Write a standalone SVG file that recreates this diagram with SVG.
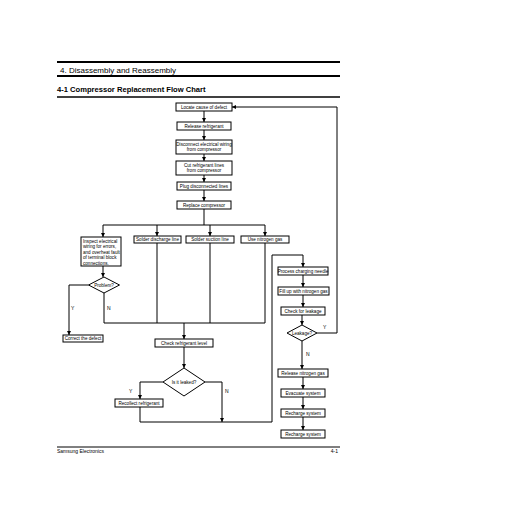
<svg xmlns="http://www.w3.org/2000/svg" width="519" height="506" viewBox="0 0 519 506">
<style>
.b{fill:#fff;stroke:#000;stroke-width:1}
.t{font-family:"Liberation Sans",Arial,sans-serif;font-size:4.6px;fill:#000;text-anchor:middle}
.tl{font-family:"Liberation Sans",Arial,sans-serif;font-size:4.6px;fill:#000}
.lb{font-family:"Liberation Sans",Arial,sans-serif;font-size:5px;fill:#000}
.c{fill:none;stroke:#000;stroke-width:1}
.h{stroke:#000}
</style>
<defs>
<marker id="a" markerWidth="4" markerHeight="4" refX="4" refY="2" orient="auto" markerUnits="userSpaceOnUse">
<path d="M0,0 L4,2 L0,4 Z" fill="#000"/>
</marker>
</defs>
<rect width="519" height="506" fill="#fff"/>
<g id="header">
<line class="h" x1="57" y1="62" x2="340" y2="62" stroke-width="2"/>
<text x="60" y="73" font-family="Liberation Sans,Arial,sans-serif" font-size="8">4. Disassembly and Reassembly</text>
<line class="h" x1="57" y1="76" x2="340" y2="76" stroke-width="2"/>
<text x="57" y="92" font-family="Liberation Sans,Arial,sans-serif" font-size="7.6" font-weight="bold">4-1 Compressor Replacement Flow Chart</text>
<line class="h" x1="57" y1="97" x2="340" y2="97" stroke-width="1.5"/>
</g>
<g id="footer">
<line class="h" x1="57" y1="447" x2="340" y2="447" stroke-width="1"/>
<text x="57" y="453" font-family="Liberation Sans,Arial,sans-serif" font-size="5">Samsung Electronics</text>
<text x="338" y="453" font-family="Liberation Sans,Arial,sans-serif" font-size="5" text-anchor="end">4-1</text>
</g>
<g id="connectors">
<path class="c" d="M204,111 V122" marker-end="url(#a)"/>
<path class="c" d="M204,130 V140" marker-end="url(#a)"/>
<path class="c" d="M204,154 V161" marker-end="url(#a)"/>
<path class="c" d="M204,175 V182" marker-end="url(#a)"/>
<path class="c" d="M204,190 V201" marker-end="url(#a)"/>
<path class="c" d="M204,209 V225"/>
<path class="c" d="M103,225 H265"/>
<path class="c" d="M103,225 V237" marker-end="url(#a)"/>
<path class="c" d="M157,225 V236" marker-end="url(#a)"/>
<path class="c" d="M210,225 V236" marker-end="url(#a)"/>
<path class="c" d="M265,225 V236" marker-end="url(#a)"/>
<path class="c" d="M103,266 V277" marker-end="url(#a)"/>
<path class="c" d="M88.5,285 H69 V335" marker-end="url(#a)"/>
<path class="c" d="M104,293 V323 H265"/>
<path class="c" d="M157,243 V323"/>
<path class="c" d="M210,243 V323"/>
<path class="c" d="M265,243 V323"/>
<path class="c" d="M184,323 V339" marker-end="url(#a)"/>
<path class="c" d="M184,347 V368" marker-end="url(#a)"/>
<path class="c" d="M163,382 H140 V399" marker-end="url(#a)"/>
<path class="c" d="M140,407 V422 H272 V255 H303 V267" marker-end="url(#a)"/>
<path class="c" d="M205,382 H222 V422" marker-end="url(#a)"/>
<path class="c" d="M303,275 V287" marker-end="url(#a)"/>
<path class="c" d="M303,295 V307" marker-end="url(#a)"/>
<path class="c" d="M302,315 V325" marker-end="url(#a)"/>
<path class="c" d="M317,333 H337 V107 H232" marker-end="url(#a)"/>
<path class="c" d="M302,341 V369" marker-end="url(#a)"/>
<path class="c" d="M303,377 V389" marker-end="url(#a)"/>
<path class="c" d="M303,397 V409" marker-end="url(#a)"/>
<path class="c" d="M303,417 V430" marker-end="url(#a)"/>
<text class="lb" x="71" y="310">Y</text>
<text class="lb" x="107" y="310">N</text>
<text class="lb" x="129" y="393">Y</text>
<text class="lb" x="225" y="393">N</text>
<text class="lb" x="323" y="329">Y</text>
<text class="lb" x="306" y="356">N</text>
</g>
<g id="n1"><rect class="b" x="176" y="103" width="56" height="8"/><text class="t" x="204" y="108.6">Locate cause of defect</text></g>
<g id="n2"><rect class="b" x="177" y="122" width="54" height="8"/><text class="t" x="204" y="127.6">Release refrigerant</text></g>
<g id="n3"><rect class="b" x="176" y="140" width="56" height="14"/><text class="t" x="204" y="145.8">Disconnect electrical wiring</text><text class="t" x="204" y="151.4">from compressor</text></g>
<g id="n4"><rect class="b" x="176" y="161" width="56" height="14"/><text class="t" x="204" y="166.8">Cut refrigerant lines</text><text class="t" x="204" y="172.4">from compressor</text></g>
<g id="n5"><rect class="b" x="177" y="182" width="54" height="8"/><text class="t" x="204" y="187.6">Plug disconnected lines</text></g>
<g id="n6"><rect class="b" x="177" y="201" width="54" height="8"/><text class="t" x="204" y="206.6">Replace compressor</text></g>
<g id="n7"><rect class="b" x="81" y="237" width="40" height="29"/>
<text class="tl" x="83" y="242.5">Inspect electrical</text>
<text class="tl" x="83" y="248">wiring for errors,</text>
<text class="tl" x="83" y="253.5">and overheat fault</text>
<text class="tl" x="83" y="259">of terminal block</text>
<text class="tl" x="83" y="264.5">connections.</text></g>
<g id="n8"><rect class="b" x="134" y="236" width="47" height="7"/><text class="t" x="157.5" y="241.2">Solder discharge line</text></g>
<g id="n9"><rect class="b" x="186" y="236" width="48" height="7"/><text class="t" x="210" y="241.2">Solder suction line</text></g>
<g id="n10"><rect class="b" x="241" y="236" width="48" height="7"/><text class="t" x="265" y="241.2">Use nitrogen gas</text></g>
<g id="d1"><polygon class="b" points="88.5,285 104,277 119.5,285 104,293"/><text class="t" x="104" y="286.6">Problem?</text></g>
<g id="n11"><rect class="b" x="63" y="335" width="40" height="7"/><text class="t" x="83" y="340.2">Correct the defect</text></g>
<g id="n12"><rect class="b" x="155" y="339" width="58" height="8"/><text class="t" x="184" y="344.6">Check refrigerant level</text></g>
<g id="d2"><polygon class="b" points="163,382 184,368 205,382 184,396"/><text class="t" x="184" y="383.6">Is it leaked?</text></g>
<g id="n13"><rect class="b" x="115" y="399" width="48" height="8"/><text class="t" x="139" y="404.6">Recollect refrigerant</text></g>
<g id="n14"><rect class="b" x="278" y="267" width="50" height="8"/><text class="t" x="303" y="272.6">Process charging needle</text></g>
<g id="n15"><rect class="b" x="278" y="287" width="51" height="8"/><text class="t" x="303.5" y="292.6">Fill up with nitrogen gas</text></g>
<g id="n16"><rect class="b" x="281" y="307" width="44" height="8"/><text class="t" x="303" y="312.6">Check for leakage</text></g>
<g id="d3"><polygon class="b" points="287,333 302,325 317,333 302,341"/><text class="t" x="302" y="334.6">Leakage?</text></g>
<g id="n17"><rect class="b" x="278" y="369" width="50" height="8"/><text class="t" x="303" y="374.6">Release nitrogen gas</text></g>
<g id="n18"><rect class="b" x="281" y="389" width="44" height="8"/><text class="t" x="303" y="394.6">Evacuate system</text></g>
<g id="n19"><rect class="b" x="281" y="409" width="44" height="8"/><text class="t" x="303" y="414.6">Recharge system</text></g>
<g id="n20"><rect class="b" x="281" y="430" width="44" height="8"/><text class="t" x="303" y="435.6">Recharge system</text></g>
</svg>
